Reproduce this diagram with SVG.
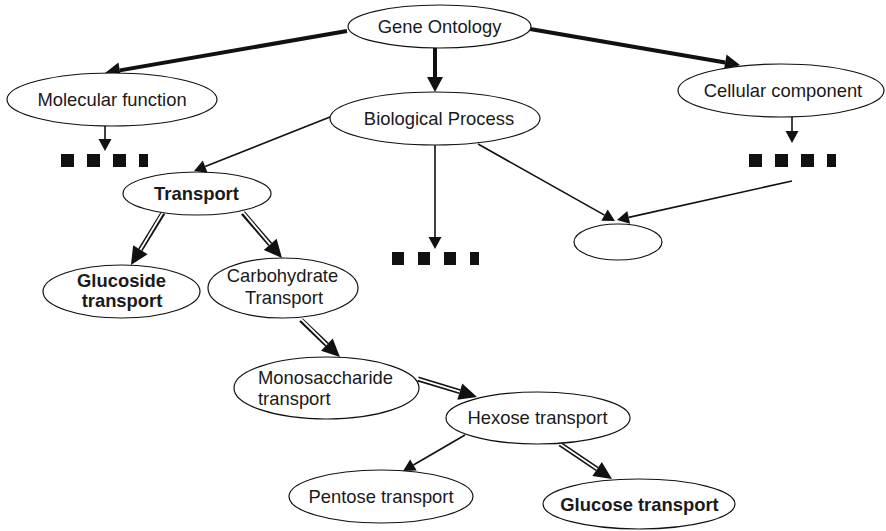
<svg xmlns="http://www.w3.org/2000/svg" width="886" height="531" viewBox="0 0 886 531">
<style>
.node ellipse{fill:#fff;stroke:#111;stroke-width:1.2}
.node text{font-family:"Liberation Sans",Arial,sans-serif;font-size:18.4px;fill:#1a1a1a;text-anchor:middle}
.node text.b{font-weight:bold}
.thick{stroke:#111;stroke-width:4;fill:none}
.thin{stroke:#111;stroke-width:1.6;fill:none}
.dbl{stroke:#111;stroke-width:5;fill:none}
.dblw{stroke:#fff;stroke-width:1.8;fill:none}
.sq{fill:#111}
</style>
<defs>
<marker id="hThick" markerUnits="userSpaceOnUse" orient="auto" overflow="visible" refX="0" refY="0" markerWidth="1" markerHeight="1"><path d="M0,-8 L15,0 L0,8 z" fill="#111"/></marker>
<marker id="hThin" markerUnits="userSpaceOnUse" orient="auto" overflow="visible" refX="0" refY="0" markerWidth="1" markerHeight="1"><path d="M0,-6.5 L12,0 L0,6.5 z" fill="#111"/></marker>
<marker id="hDbl" markerUnits="userSpaceOnUse" orient="auto" overflow="visible" refX="0" refY="0" markerWidth="1" markerHeight="1"><path d="M0,-8.5 L18,0 L0,8.5 z" fill="#111"/></marker>
</defs>
<g id="connectors">
<line class="thick" x1="347" y1="31" x2="119.8" y2="70.4" marker-end="url(#hThick)"/>
<line class="thick" x1="435" y1="48" x2="435" y2="77" marker-end="url(#hThick)"/>
<line class="thick" x1="530" y1="29" x2="725.2" y2="62.5" marker-end="url(#hThick)"/>
<line class="thin" x1="105" y1="126" x2="105" y2="139" marker-end="url(#hThin)"/>
<line class="thin" x1="792" y1="117" x2="792" y2="131" marker-end="url(#hThin)"/>
<line class="thin" x1="435" y1="145" x2="435" y2="237" marker-end="url(#hThin)"/>
<line class="thin" x1="330" y1="117" x2="205.2" y2="166.6" marker-end="url(#hThin)"/>
<line class="thin" x1="478" y1="144" x2="604.5" y2="215.1" marker-end="url(#hThin)"/>
<line class="thin" x1="792" y1="181" x2="628.7" y2="217.4" marker-end="url(#hThin)"/>
<line class="thin" x1="465" y1="435" x2="413.4" y2="465" marker-end="url(#hThin)"/>
<line class="dbl" x1="163" y1="213" x2="140.4" y2="249.7" marker-end="url(#hDbl)"/>
<line class="dblw" x1="163" y1="212" x2="140.4" y2="249.7"/>
<line class="dbl" x1="243" y1="213" x2="270.2" y2="244.4" marker-end="url(#hDbl)"/>
<line class="dblw" x1="243" y1="212" x2="270.2" y2="244.4"/>
<line class="dbl" x1="301" y1="320" x2="326.9" y2="344.6" marker-end="url(#hDbl)"/>
<line class="dblw" x1="301" y1="319" x2="326.9" y2="344.6"/>
<line class="dbl" x1="418" y1="379" x2="459.8" y2="391.7" marker-end="url(#hDbl)"/>
<line class="dblw" x1="417" y1="378.7" x2="459.8" y2="391.7"/>
<line class="dbl" x1="560" y1="444" x2="597.1" y2="469" marker-end="url(#hDbl)"/>
<line class="dblw" x1="559" y1="443.3" x2="597.1" y2="469"/>
</g>
<g id="dots-mf">
<rect class="sq" x="61" y="154" width="13" height="13"/>
<rect class="sq" x="87" y="154" width="13" height="13"/>
<rect class="sq" x="113" y="154" width="13" height="13"/>
<rect class="sq" x="139" y="154" width="9" height="13"/>
</g>
<g id="dots-cc">
<rect class="sq" x="749" y="154" width="13" height="13"/>
<rect class="sq" x="775" y="154" width="13" height="13"/>
<rect class="sq" x="801" y="154" width="13" height="13"/>
<rect class="sq" x="827" y="154" width="9" height="13"/>
</g>
<g id="dots-bp">
<rect class="sq" x="392" y="252" width="12" height="13"/>
<rect class="sq" x="418" y="252" width="12" height="13"/>
<rect class="sq" x="444" y="252" width="12" height="13"/>
<rect class="sq" x="470" y="252" width="9" height="13"/>
</g>
<g id="gene-ontology" class="node"><ellipse cx="439.5" cy="26.5" rx="91.5" ry="21.5"/><text x="439.5" y="33">Gene Ontology</text></g>
<g id="molecular-function" class="node"><ellipse cx="112" cy="99.5" rx="105" ry="26.5"/><text x="112" y="106">Molecular function</text></g>
<g id="biological-process" class="node"><ellipse cx="435" cy="118.5" rx="105" ry="26.5"/><text x="439" y="125">Biological Process</text></g>
<g id="cellular-component" class="node"><ellipse cx="781" cy="90.5" rx="103" ry="26.5"/><text x="783" y="97">Cellular component</text></g>
<g id="empty-node" class="node"><ellipse cx="618" cy="242" rx="44" ry="18"/></g>
<g id="transport" class="node"><ellipse cx="197" cy="193.5" rx="74" ry="21.5"/><text class="b" x="196.5" y="200">Transport</text></g>
<g id="glucoside-transport" class="node"><ellipse cx="121.5" cy="291.5" rx="78.5" ry="26.5"/><text class="b" x="121.5" y="287">Glucoside</text><text class="b" x="122" y="307">transport</text></g>
<g id="carbohydrate-transport" class="node"><ellipse cx="283" cy="288" rx="75" ry="30"/><text x="282.5" y="282">Carbohydrate</text><text x="284" y="304">Transport</text></g>
<g id="monosaccharide-transport" class="node"><ellipse cx="326.5" cy="388" rx="92.5" ry="31"/><text x="258" y="384" style="text-anchor:start">Monosaccharide</text><text x="258" y="405" style="text-anchor:start">transport</text></g>
<g id="hexose-transport" class="node"><ellipse cx="538" cy="418" rx="92" ry="26"/><text x="537.5" y="424">Hexose transport</text></g>
<g id="pentose-transport" class="node"><ellipse cx="381" cy="496.5" rx="92" ry="26.5"/><text x="381" y="503">Pentose transport</text></g>
<g id="glucose-transport" class="node"><ellipse cx="639" cy="504" rx="96" ry="25"/><text class="b" x="639.5" y="511">Glucose transport</text></g>
</svg>
